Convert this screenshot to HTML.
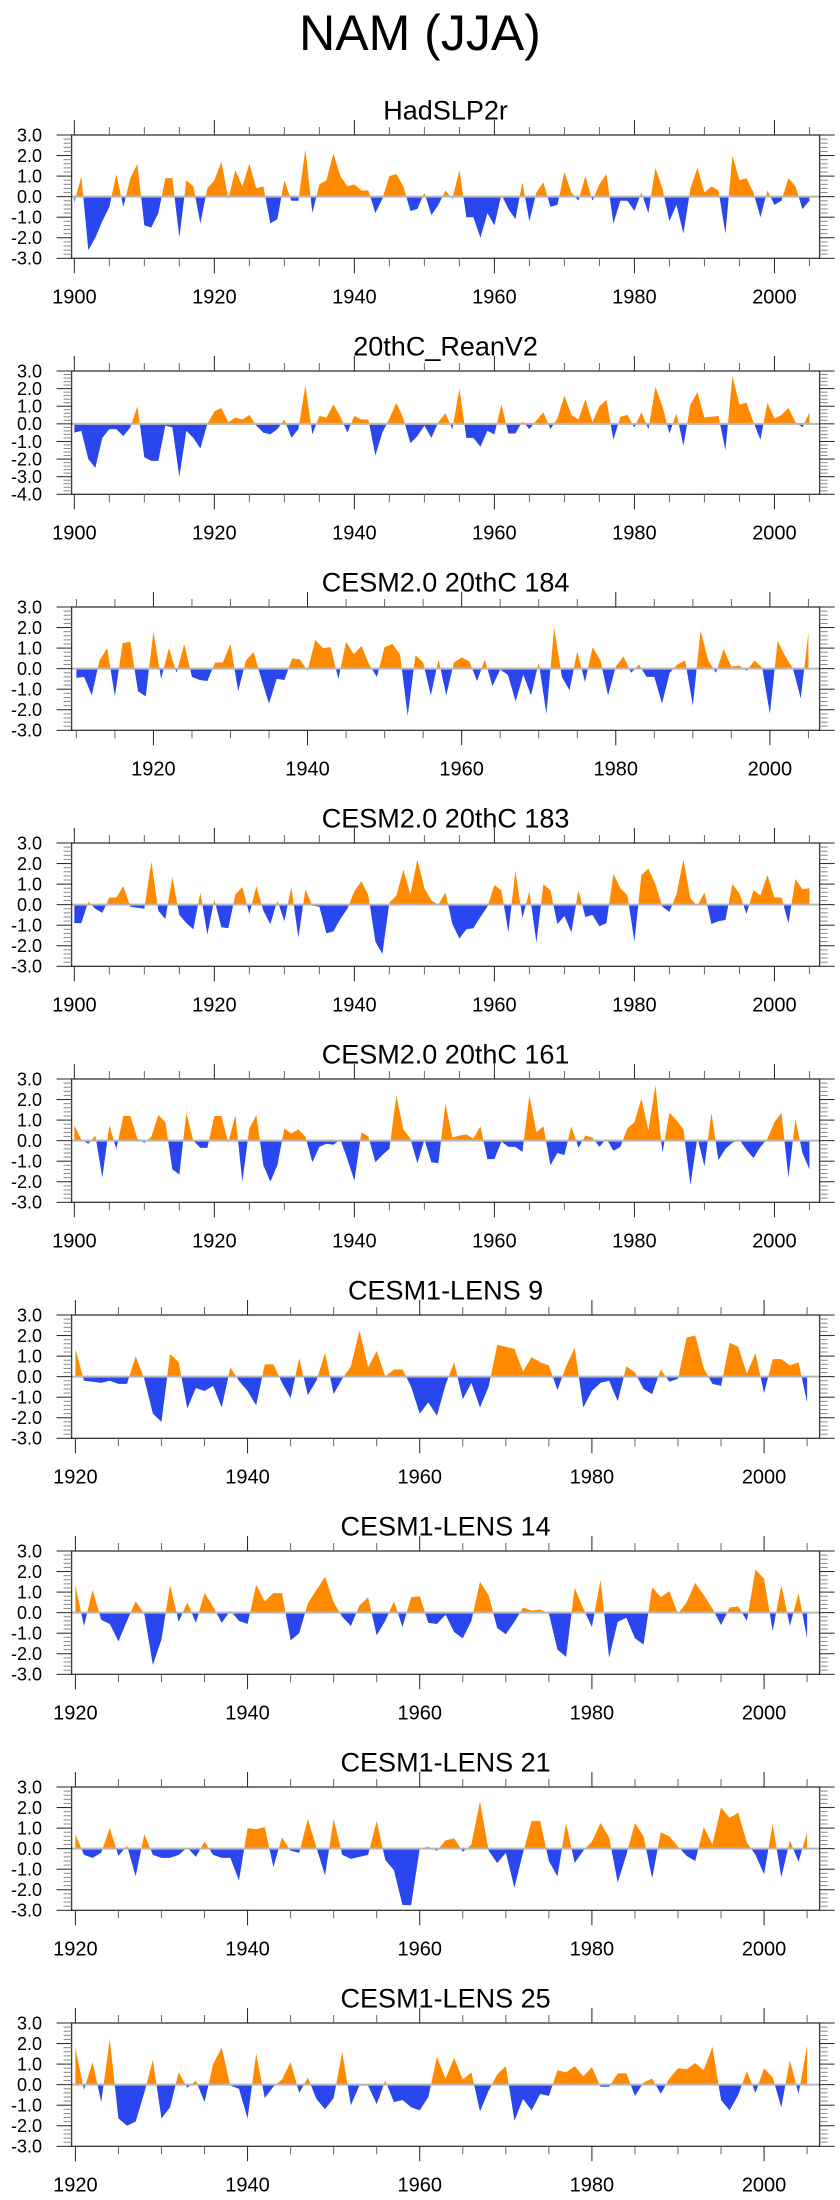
<!DOCTYPE html>
<html>
<head>
<meta charset="utf-8">
<style>
  html, body { margin: 0; padding: 0; background: #ffffff; }
  body { width: 840px; height: 2200px; overflow: hidden; }
  svg { display: block; font-family: "Liberation Sans", "DejaVu Sans", sans-serif; }
</style>
</head>
<body>
<svg id="chart" width="840" height="2200" viewBox="0 0 840 2200" xmlns="http://www.w3.org/2000/svg">
  <rect x="0" y="0" width="840" height="2200" fill="#ffffff"/>
  <text x="420" y="50" text-anchor="middle" font-size="50" fill="#000">NAM (JJA)</text>
</svg>
<script>
// ---- data (yearly NAM index) ----
const titles = ["HadSLP2r","20thC_ReanV2","CESM2.0 20thC 184","CESM2.0 20thC 183","CESM2.0 20thC 161","CESM1-LENS 9","CESM1-LENS 14","CESM1-LENS 21","CESM1-LENS 25"];
const startYears = [1900,1900,1910,1900,1900,1920,1920,1920,1920];
const yMins = [-3,-4,-3,-3,-3,-3,-3,-3,-3];
const yMaxs = [3,3,3,3,3,3,3,3,3];
const labelStarts = [1900,1900,1920,1900,1900,1920,1920,1920,1920];

const hadslp2r = [-0.3,1.0,-2.6,-2.0,-1.2,-0.5,1.1,-0.5,0.9,1.6,
-1.4,-1.5,-0.8,0.9,0.9,-2.0,0.8,0.5,-1.3,0.4,
0.8,1.7,-0.1,1.3,0.5,1.6,0.4,0.5,-1.3,-1.1,
0.8,-0.2,-0.2,2.3,-0.8,0.6,0.8,2.1,1.0,0.5,
0.6,0.3,0.3,-0.8,-0.1,1.0,1.1,0.5,-0.7,-0.6,
0.2,-0.9,-0.4,0.3,-0.1,1.3,-1.0,-1.0,-2.0,-0.8,
-1.4,0.1,-0.6,-1.1,0.7,-1.2,0.2,0.7,-0.5,-0.4,
1.2,0.2,-0.2,1.0,-0.2,0.6,1.1,-1.3,-0.2,-0.2,
-0.7,0.2,-0.8,1.4,0.4,-1.2,-0.4,-1.8,0.4,1.4,
0.2,0.5,0.3,-1.8,2.0,0.8,0.9,0.2,-1.0,0.3,
-0.4,-0.2,0.9,0.5,-0.6,-0.2];

const reanV2 = [-0.5,-0.4,-2.0,-2.5,-0.8,-0.3,-0.3,-0.7,-0.2,1.0,
-1.9,-2.1,-2.1,-0.1,-0.2,-3.0,-0.4,-0.8,-1.4,0.0,
0.7,0.9,0.1,0.35,0.25,0.5,-0.1,-0.5,-0.6,-0.3,
0.25,-0.8,-0.3,2.2,-0.6,0.45,0.35,1.1,0.4,-0.5,
0.45,0.25,0.25,-1.8,-0.5,0.3,1.2,0.3,-1.1,-0.7,
-0.1,-0.8,0.1,0.6,-0.3,2.0,-0.8,-0.8,-1.3,-0.4,
-0.6,1.1,-0.55,-0.55,0.15,-0.3,0.2,0.65,-0.3,0.3,
1.6,0.5,0.25,1.4,0.1,1.0,1.35,-0.9,0.4,0.5,
-0.2,0.65,-0.3,2.1,1.0,-0.55,0.6,-1.25,1.1,1.8,
0.35,0.4,0.45,-1.5,2.7,1.1,1.2,0.1,-0.9,1.2,
0.3,0.5,0.9,0.1,-0.2,0.65];

const cesm2_184 = [-0.45,-0.4,-1.3,0.4,1.0,-1.35,1.25,1.3,-1.1,-1.35,
1.8,-0.5,1.0,-0.2,1.2,-0.4,-0.55,-0.6,0.3,0.3,
1.2,-1.1,0.4,0.8,-0.5,-1.7,-0.5,-0.55,0.5,0.45,
-0.1,1.4,1.0,1.05,-0.5,1.3,0.7,1.1,0.2,-0.4,
1.05,1.2,0.7,-2.3,0.65,0.3,-1.3,0.45,-1.3,0.3,
0.55,0.35,-0.6,0.45,-0.85,-0.05,-0.3,-1.6,-0.3,-1.3,
0.3,-2.2,2.0,-0.4,-1.05,0.85,-0.65,1.05,0.4,-1.3,
0.1,0.6,-0.2,0.2,-0.4,-0.4,-1.7,-0.2,0.2,0.4,
-1.8,1.85,0.4,-0.2,0.95,0.1,0.15,-0.1,0.4,0.05,
-2.2,1.35,0.6,0.0,-1.45,1.75];

const cesm2_183 = [-0.9,-0.9,0.15,-0.2,-0.4,0.35,0.35,0.9,-0.1,-0.15,
-0.2,2.1,-0.3,-0.7,1.35,-0.5,-0.9,-1.2,0.6,-1.45,
0.25,-1.1,-1.15,0.5,0.85,-0.45,0.9,-0.3,-0.95,0.2,
-0.8,0.85,-1.6,0.75,-0.05,-0.1,-1.4,-1.3,-0.7,-0.2,
0.65,1.15,0.45,-1.8,-2.4,0.1,0.45,1.7,0.5,2.2,
0.8,0.2,0.0,0.6,-0.95,-1.65,-1.2,-1.15,-0.6,-0.1,
0.95,0.7,-1.35,1.65,-0.65,0.65,-1.85,1.0,0.7,-0.95,
-0.55,-1.35,0.7,-0.6,-0.5,-1.05,-0.9,1.5,0.8,0.45,
-1.8,1.45,1.75,1.0,-0.1,-0.35,0.5,2.2,0.3,-0.05,
0.6,-0.95,-0.8,-0.75,1.0,0.55,-0.45,0.7,0.45,1.45,
0.35,0.35,-0.9,1.25,0.75,0.8];

const cesm2_161 = [0.75,0.05,-0.15,0.25,-1.8,0.75,-0.4,1.2,1.2,0.1,
-0.1,0.2,1.25,0.9,-1.4,-1.65,1.35,0.0,-0.35,-0.35,
1.2,1.2,-0.1,1.25,-2.0,0.6,1.25,-1.2,-2.0,-1.2,
0.6,0.35,0.55,0.2,-1.05,-0.3,-0.15,-0.2,0.05,-0.9,
-1.95,0.4,0.2,-1.05,-0.7,-0.4,2.2,0.55,0.1,-1.1,
0.05,-1.05,-1.1,1.8,0.15,0.25,0.3,0.1,0.7,-0.9,
-0.9,-0.05,-0.3,-0.3,-0.55,2.2,0.4,0.7,-1.2,-0.6,
-0.7,0.7,-0.35,0.25,0.15,-0.3,0.1,-0.5,-0.3,0.6,
0.9,2.05,0.5,2.7,-0.6,1.35,1.0,0.55,-2.15,0.15,
-1.25,1.35,-0.95,-0.4,-0.1,0.05,-0.45,-0.85,-0.3,0.1,
0.9,1.35,-1.8,1.05,-0.6,-1.4];

const lens9 = [1.35,-0.2,-0.25,-0.3,-0.2,-0.35,-0.35,1.0,-0.1,-1.8,
-2.2,1.1,0.7,-1.55,-0.55,-0.7,-0.45,-1.5,0.45,-0.2,
-0.7,-1.4,0.6,0.6,-0.3,-1.05,0.9,-0.9,-0.2,1.15,
-0.85,-0.1,0.5,2.25,0.45,1.25,0.0,0.35,0.35,-0.5,
-1.8,-1.25,-1.9,-0.4,0.7,-1.1,-0.3,-1.5,-0.5,1.55,
1.45,1.35,0.25,0.95,0.7,0.55,-0.65,0.5,1.4,-1.5,
-0.7,-0.3,-0.2,-1.2,0.5,0.2,-0.6,-0.85,0.35,-0.25,
-0.1,1.9,2.0,0.4,-0.35,-0.45,1.65,1.45,0.15,1.15,
-0.8,0.85,0.85,0.55,0.7,-1.25];

const lens14 = [1.35,-0.65,1.1,-0.35,-0.55,-1.4,-0.4,0.55,-0.05,-2.55,
-1.3,1.35,-0.45,0.5,-0.5,0.95,0.3,-0.5,0.1,-0.4,
-0.55,1.35,0.55,0.95,0.95,-1.35,-1.0,0.45,1.1,1.75,
0.5,-0.2,-0.65,0.35,0.75,-1.1,-0.4,0.55,-0.7,0.75,
0.8,-0.5,-0.55,-0.1,-0.95,-1.25,-0.4,1.5,0.85,-0.75,
-1.05,-0.45,0.25,0.1,0.15,-0.05,-1.8,-2.15,1.2,0.2,
-0.7,1.6,-2.2,-0.45,-0.25,-1.25,-1.55,1.25,0.75,1.05,
-0.05,0.5,1.45,0.85,0.2,-0.6,0.25,0.3,-0.4,2.1,
1.65,-0.9,1.35,-0.65,0.95,-1.25];

const lens21 = [0.7,-0.3,-0.45,-0.2,1.0,-0.35,0.15,-1.35,0.7,-0.3,
-0.45,-0.45,-0.3,0.05,-0.4,0.35,-0.3,-0.45,-0.45,-1.55,
1.0,0.95,1.05,-0.9,0.55,-0.1,-0.2,1.45,0.05,-1.3,
1.45,-0.3,-0.5,-0.4,-0.3,1.35,-0.55,-1.05,-2.75,-2.75,
0.0,0.1,-0.1,0.4,0.5,-0.15,0.2,2.3,-0.1,-0.7,
-0.2,-1.9,-0.2,1.35,1.35,-0.6,-1.35,1.25,-0.7,-0.1,
0.35,1.25,0.55,-1.65,-0.3,1.25,0.6,-1.45,0.8,0.6,
0.1,-0.35,-0.6,1.05,0.2,2.0,1.5,1.75,0.3,-0.3,
-1.25,1.2,-1.4,0.4,-0.65,0.8];

const lens25 = [1.8,-0.25,1.1,-0.85,2.2,-1.65,-2.0,-1.8,-0.4,1.2,
-1.65,-1.1,0.6,-0.15,0.2,-0.85,1.0,1.8,-0.05,-0.2,
-1.65,1.5,-0.65,-0.1,0.25,1.1,-0.4,0.35,-0.7,-1.2,
-0.65,1.6,-1.0,-0.05,-0.05,-0.95,0.2,-0.85,-0.75,-1.1,
-1.25,-0.6,1.35,0.3,1.3,0.25,0.6,-1.3,-0.3,0.5,
0.9,-1.75,-0.7,-1.25,-0.45,-0.55,0.7,0.6,0.9,0.4,
0.85,-0.1,-0.1,0.55,0.55,-0.55,0.1,0.3,-0.45,0.3,
0.8,0.75,1.05,0.7,1.85,-0.75,-1.25,-0.5,0.65,-0.4,
0.8,0.35,-1.1,1.2,-0.45,1.9];

const seriesList = [hadslp2r, reanV2, cesm2_184, cesm2_183, cesm2_161, lens9, lens14, lens21, lens25];

// ---- layout ----
const NS = "http://www.w3.org/2000/svg";
const svg = document.getElementById("chart");
const L = 71.6, R = 819.6, H = 123.3, TOP0 = 135, STEP = 236;
const XMAX = 2006.45;
const ORANGE = "#ff8a00", BLUE = "#2a46ee";

function mk(tag, attrs, parent) {
  const e = document.createElementNS(NS, tag);
  for (const k in attrs) e.setAttribute(k, attrs[k]);
  (parent || svg).appendChild(e);
  return e;
}

seriesList.forEach(function (vals, p) {
  const top = TOP0 + STEP * p, bot = top + H;
  const start = startYears[p];
  const xmin = start - (start === 1900 ? 0.39 : (start === 1910 ? 0.62 : 0.44));
  const ymin = yMins[p], ymax = yMaxs[p];
  const xs = function (yr) { return L + (yr - xmin) / (XMAX - xmin) * (R - L); };
  const ys = function (v) { return top + (ymax - v) / (ymax - ymin) * H; };
  const y0 = ys(0);

  const g = mk("g", {});
  
  

  const title = mk("text", {x: (L + R) / 2, y: top - 15.7, "text-anchor": "middle", "font-size": 27, fill: "#000"}, g);
  title.textContent = titles[p];
  
  

  const defs = mk("defs", {}, g);
  const cUp = mk("clipPath", {id: "up" + p}, defs);
  mk("rect", {x: L, y: top, width: R - L, height: y0 - top}, cUp);
  const cDn = mk("clipPath", {id: "dn" + p}, defs);
  mk("rect", {x: L, y: y0, width: R - L, height: bot - y0}, cDn);

  let d = "M" + xs(start).toFixed(2) + "," + y0.toFixed(2);
  vals.forEach(function (v, i) { d += " L" + xs(start + i).toFixed(2) + "," + ys(v).toFixed(2); });
  d += " L" + xs(start + vals.length - 1).toFixed(2) + "," + y0.toFixed(2) + " Z";

  const pos = mk("path", {d: d, fill: ORANGE, "clip-path": "url(#up" + p + ")"}, g);
  
  
  const neg = mk("path", {d: d, fill: BLUE, "clip-path": "url(#dn" + p + ")"}, g);
  
  

  const zl = mk("line", {x1: L, x2: R, y1: y0, y2: y0, stroke: "#b8b8b8", "stroke-width": 2}, g);
  
  

  const box = mk("rect", {x: L, y: top, width: R - L, height: H, fill: "none", stroke: "#333", "stroke-width": 1.3}, g);
  
  

  for (let t = ymin; t <= ymax + 1e-6; t += 0.2) {
    const tv = Math.round(t * 10) / 10;
    const yy = ys(tv);
    const major = Math.abs(tv - Math.round(tv)) < 1e-6;
    const len = major ? 15 : 8;
    const col = major ? "#222" : "#888";
    mk("line", {x1: L - len, x2: L, y1: yy, y2: yy, stroke: col, "stroke-width": 1}, g);
    mk("line", {x1: R, x2: R + len, y1: yy, y2: yy, stroke: col, "stroke-width": 1}, g);
    if (major) {
      const lab = mk("text", {x: 42, y: yy + 6.3, "text-anchor": "end", "font-size": 18, fill: "#000"}, g);
      lab.textContent = tv.toFixed(1);
      
      
    }
  }

  for (let yr = Math.ceil(xmin / 5) * 5; yr <= XMAX; yr += 5) {
    const xx = xs(yr);
    const major = yr % 20 === 0;
    const len = major ? 15 : 8;
    const col = major ? "#222" : "#666";
    mk("line", {x1: xx, x2: xx, y1: top - len, y2: top, stroke: col, "stroke-width": 1}, g);
    mk("line", {x1: xx, x2: xx, y1: bot, y2: bot + len, stroke: col, "stroke-width": 1}, g);
    if (major && yr >= labelStarts[p]) {
      const lab = mk("text", {x: xx, y: bot + 45, "text-anchor": "middle", "font-size": 20, fill: "#000"}, g);
      lab.textContent = String(yr);
      
      
    }
  }
});
</script>
</body>
</html>
